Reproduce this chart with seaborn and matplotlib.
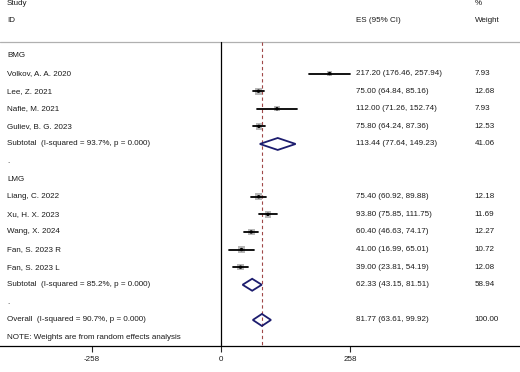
import numpy as np
import pandas as pd
import matplotlib
matplotlib.use('Agg')
import matplotlib.pyplot as plt
import seaborn as sns

# data
bmg_study = ['Volkov, A. A. 2020', 'Lee, Z. 2021', 'Nafie, M. 2021', 'Guliev, B. G. 2023']
bmg_es = [217.20, 75.00, 112.00, 75.80]
bmg_lo = [176.46, 64.84, 71.26, 64.24]
bmg_hi = [257.94, 85.16, 152.74, 87.36]
bmg_w = [7.93, 12.68, 7.93, 12.53]
bmg_sub = (113.44, 77.64, 149.23, 41.06, 'Subtotal  (I-squared = 93.7%, p = 0.000)')

lmg_study = ['Liang, C. 2022', 'Xu, H. X. 2023', 'Wang, X. 2024', 'Fan, S. 2023 R', 'Fan, S. 2023 L']
lmg_es = [75.40, 93.80, 60.40, 41.00, 39.00]
lmg_lo = [60.92, 75.85, 46.63, 16.99, 23.81]
lmg_hi = [89.88, 111.75, 74.17, 65.01, 54.19]
lmg_w = [12.18, 11.69, 12.27, 10.72, 12.08]
lmg_sub = (62.33, 43.15, 81.51, 58.94, 'Subtotal  (I-squared = 85.2%, p = 0.000)')

overall = (81.77, 63.61, 99.92, 100.00, 'Overall  (I-squared = 90.7%, p = 0.000)')
xticks = [-258, 0, 258]

# build row table
rows = []
def add(label, kind, es=np.nan, lo=np.nan, hi=np.nan, w=np.nan):
    rows.append(dict(label=label, kind=kind, es=es, lo=lo, hi=hi, w=w))

add('BMG', 'head')
for s, e, l, h, w in zip(bmg_study, bmg_es, bmg_lo, bmg_hi, bmg_w):
    add(s, 'study', e, l, h, w)
add(bmg_sub[4], 'sub', *bmg_sub[:4])
add('.', 'blank')
add('LMG', 'head')
for s, e, l, h, w in zip(lmg_study, lmg_es, lmg_lo, lmg_hi, lmg_w):
    add(s, 'study', e, l, h, w)
add(lmg_sub[4], 'sub', *lmg_sub[:4])
add('.', 'blank')
add(overall[4], 'sub', *overall[:4])
add('NOTE: Weights are from random effects analysis', 'note')
df = pd.DataFrame(rows)
df['y'] = np.arange(len(df))

sns.set_style('white')
plt.rcParams['font.family'] = ['Liberation Sans', 'DejaVu Sans']
fs = 5.8
tc = '#1a1a1a'

fig = plt.figure(figsize=(5.2, 3.72), dpi=100)
ax = fig.add_axes([0, 26 / 372, 1, 346 / 372])
ybot = 16.48
ax.set_xlim(-442, 598)
ax.set_ylim(ybot, -3.18)

xl, xes, xw = -428, 271, 507
ax.axhline(-0.8, color='#b0b0b0', lw=0.9)
ax.plot([0, 0], [-0.8, ybot], color='black', lw=0.9)
ax.plot([overall[0]] * 2, [-0.8, ybot], color='#a04848', lw=0.8, ls=(0, (3, 2.5)))

st = df[df.kind == 'study']
for _, r in st.iterrows():
    ax.plot([r.lo, r.hi], [r.y, r.y], color='black', lw=1.3, zorder=3)
sns.scatterplot(data=st, x='es', y='y', size='w', sizes=(14, 24), marker='s', color='#b8b8b8',
                edgecolor='none', legend=False, ax=ax, zorder=2)
sns.scatterplot(data=st, x='es', y='y', marker='o', s=6, color='black', edgecolor='none',
                legend=False, ax=ax, zorder=4)

for _, r in df[df.kind == 'sub'].iterrows():
    ax.fill([r.lo, r.es, r.hi, r.es, r.lo], [r.y, r.y - 0.34, r.y, r.y + 0.34, r.y],
            facecolor='none', edgecolor='#1c1c6e', lw=1.3, zorder=3)

for _, r in df.iterrows():
    ax.text(xl, r.y, r.label, fontsize=fs, va='center', ha='left', color=tc)
    if r.kind in ('study', 'sub'):
        ax.text(xes, r.y, '%.2f (%.2f, %.2f)' % (r.es, r.lo, r.hi), fontsize=fs, va='center', color=tc)
        ax.text(xw, r.y, '%.2f' % r.w, fontsize=fs, va='center', color=tc)

ax.text(xl, -3, 'Study', fontsize=fs, va='center', color=tc)
ax.text(xl, -2, 'ID', fontsize=fs, va='center', color=tc)
ax.text(xes, -2, 'ES (95% CI)', fontsize=fs, va='center', color=tc)
ax.text(xw, -3, '%', fontsize=fs, va='center', color=tc)
ax.text(xw, -2, 'Weight', fontsize=fs, va='center', color=tc)

for s in ['top', 'left', 'right']:
    ax.spines[s].set_visible(False)
ax.spines['bottom'].set_color('black')
ax.spines['bottom'].set_linewidth(0.9)
ax.set_xticks(xticks)
ax.set_xticklabels([str(t) for t in xticks], fontsize=fs, color=tc)
ax.tick_params(axis='x', direction='out', length=4, width=0.8, pad=3, bottom=True)
ax.set_yticks([])
ax.set_xlabel('')
ax.set_ylabel('')
fig.savefig('out.png', dpi=100)
